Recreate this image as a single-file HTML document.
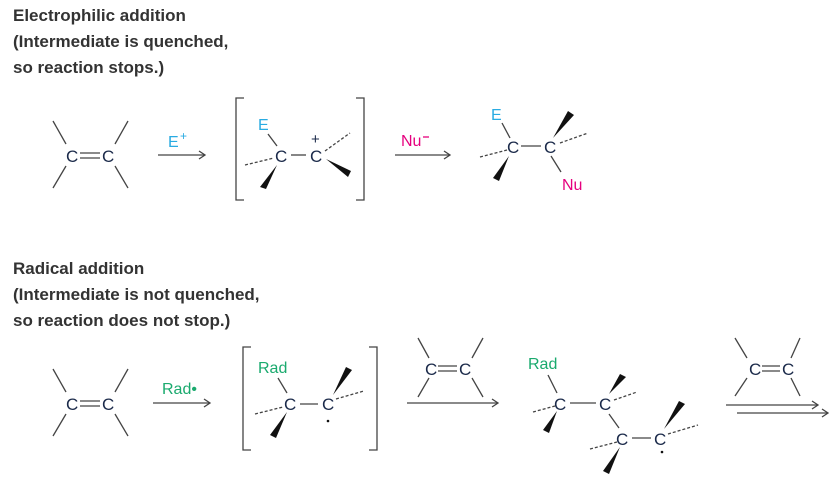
<!DOCTYPE html>
<html><head><meta charset="utf-8"><style>
body{margin:0;background:#fff}
svg{display:block}
.h{font-family:"Liberation Sans",sans-serif;font-weight:bold;font-size:17px;fill:#333}
.c{font-family:"Liberation Sans",sans-serif;font-size:17px;fill:#1b2a4a}
.b{font-family:"Liberation Sans",sans-serif;font-size:16px;fill:#29abe2}
.m{font-family:"Liberation Sans",sans-serif;font-size:16px;fill:#e6007e}
.g{font-family:"Liberation Sans",sans-serif;font-size:16px;fill:#1aaa6e}
line{stroke:#444;stroke-width:1.3}
.d{stroke-dasharray:3,2}
polygon{fill:#111}
polyline{fill:none;stroke:#444;stroke-width:1.3}
</style></head><body>
<svg width="831" height="480" viewBox="0 0 831 480">
<text class="h" x="13" y="21">Electrophilic addition</text>
<text class="h" x="13" y="47">(Intermediate is quenched,</text>
<text class="h" x="13" y="73">so reaction stops.)</text>
<text class="h" x="13" y="274">Radical addition</text>
<text class="h" x="13" y="300">(Intermediate is not quenched,</text>
<text class="h" x="13" y="326">so reaction does not stop.)</text>

<!-- top alkene -->
<g>
<text class="c" x="66" y="162">C</text><text class="c" x="102" y="162">C</text>
<line x1="80" y1="153" x2="100" y2="153"/><line x1="80" y1="158" x2="100" y2="158"/>
<line x1="53" y1="121" x2="66" y2="144"/><line x1="53" y1="188" x2="66" y2="166"/>
<line x1="128" y1="121" x2="115" y2="144"/><line x1="128" y1="188" x2="115" y2="166"/>
</g>
<line x1="158" y1="155" x2="205" y2="155"/><polyline points="199,151 205,155 199,159"/>
<text class="b" x="168" y="147">E</text><text class="b" x="180" y="140" style="font-size:12px">+</text>
<!-- bracket 1 -->
<polyline points="244,98 236,98 236,200 244,200"/><polyline points="356,98 364,98 364,200 356,200"/>
<text class="b" x="258" y="130">E</text>
<line x1="268" y1="134" x2="277" y2="146"/>
<text class="c" x="275" y="162">C</text><text class="c" x="310" y="162">C</text>
<line x1="291" y1="155" x2="306" y2="155"/>
<line class="d" x1="245" y1="165" x2="274" y2="158"/>
<polygon points="277,165 260,187 266,189"/>
<text class="c" x="311" y="144" style="font-size:15px">+</text>
<line class="d" x1="325" y1="151" x2="350" y2="133"/>
<polygon points="326,159 348,177 351,171"/>
<!-- Nu arrow -->
<line x1="395" y1="155" x2="450" y2="155"/><polyline points="444,151 450,155 444,159"/>
<text class="m" x="401" y="146">Nu</text><line x1="423" y1="137" x2="429" y2="137" style="stroke:#e6007e"/>
<!-- product -->
<text class="b" x="491" y="120">E</text>
<line x1="502" y1="123" x2="510" y2="138"/>
<text class="c" x="507" y="153">C</text><text class="c" x="544" y="153">C</text>
<line x1="521" y1="146" x2="541" y2="146"/>
<line class="d" x1="480" y1="157" x2="507" y2="150"/>
<polygon points="509,156 493,178 499,181"/>
<polygon points="553,138 568,111 574,115"/>
<line class="d" x1="560" y1="143" x2="588" y2="133"/>
<line x1="551" y1="156" x2="561" y2="172"/>
<text class="m" x="562" y="190">Nu</text>

<!-- bottom alkene -->
<text class="c" x="66" y="410">C</text><text class="c" x="102" y="410">C</text>
<line x1="80" y1="401" x2="100" y2="401"/><line x1="80" y1="406" x2="100" y2="406"/>
<line x1="53" y1="369" x2="66" y2="392"/><line x1="53" y1="436" x2="66" y2="414"/>
<line x1="128" y1="369" x2="115" y2="392"/><line x1="128" y1="436" x2="115" y2="414"/>
<line x1="153" y1="403" x2="210" y2="403"/><polyline points="204,399 210,403 204,407"/>
<text class="g" x="162" y="394">Rad•</text>
<!-- bracket 2 -->
<polyline points="251,347 243,347 243,450 251,450"/><polyline points="369,347 377,347 377,450 369,450"/>
<text class="g" x="258" y="373">Rad</text>
<line x1="278" y1="378" x2="287" y2="393"/>
<text class="c" x="284" y="410">C</text><text class="c" x="322" y="410">C</text>
<line x1="300" y1="404" x2="318" y2="404"/>
<line class="d" x1="255" y1="414" x2="283" y2="407"/>
<polygon points="287,412 270,435 276,438"/>
<polygon points="333,395 346,367 352,370"/>
<line class="d" x1="336" y1="399" x2="364" y2="391"/>
<circle cx="328" cy="421" r="1.3" fill="#111"/>
<!-- alkene over arrow -->
<text class="c" x="425" y="375">C</text><text class="c" x="459" y="375">C</text>
<line x1="438" y1="366" x2="457" y2="366"/><line x1="438" y1="371" x2="457" y2="371"/>
<line x1="418" y1="338" x2="429" y2="358"/><line x1="418" y1="397" x2="429" y2="378"/>
<line x1="483" y1="338" x2="472" y2="358"/><line x1="483" y1="397" x2="472" y2="378"/>
<line x1="407" y1="403" x2="498" y2="403"/><polyline points="492,399 498,403 492,407"/>
<!-- chain -->
<text class="g" x="528" y="369">Rad</text>
<line x1="548" y1="375" x2="557" y2="393"/>
<text class="c" x="554" y="410">C</text><text class="c" x="599" y="410">C</text>
<line x1="570" y1="403" x2="596" y2="403"/>
<line class="d" x1="533" y1="412" x2="555" y2="406"/>
<polygon points="557,411 543,430 549,433"/>
<polygon points="609,394 620,374 626,377"/>
<line class="d" x1="614" y1="400" x2="637" y2="392"/>
<line x1="609" y1="414" x2="619" y2="428"/>
<text class="c" x="616" y="445">C</text><text class="c" x="654" y="445">C</text>
<line x1="632" y1="438" x2="651" y2="438"/>
<line class="d" x1="590" y1="449" x2="617" y2="442"/>
<polygon points="620,447 603,471 609,474"/>
<polygon points="664,429 679,401 685,404"/>
<line class="d" x1="668" y1="434" x2="698" y2="425"/>
<circle cx="662" cy="452" r="1.3" fill="#111"/>
<!-- final alkene -->
<text class="c" x="749" y="375">C</text><text class="c" x="782" y="375">C</text>
<line x1="762" y1="366" x2="780" y2="366"/><line x1="762" y1="371" x2="780" y2="371"/>
<line x1="735" y1="338" x2="747" y2="358"/><line x1="735" y1="396" x2="747" y2="378"/>
<line x1="800" y1="338" x2="791" y2="358"/><line x1="800" y1="396" x2="791" y2="378"/>
<line x1="726" y1="405" x2="818" y2="405"/><polyline points="812,401 818,405 812,409"/>
<line x1="737" y1="413" x2="828" y2="413"/><polyline points="822,409 828,413 822,417"/>
</svg>
</body></html>
